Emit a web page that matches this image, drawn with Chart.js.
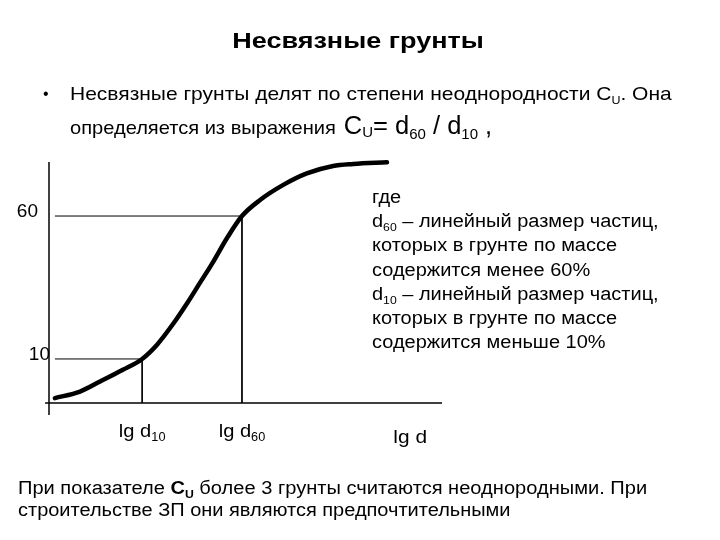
<!DOCTYPE html>
<html>
<head>
<meta charset="utf-8">
<script src="https://cdn.jsdelivr.net/npm/chart.js@4"></script>
<style>
html,body{margin:0;padding:0;background:#fff;}
#wrap{position:relative;width:720px;height:540px;}
</style>
</head>
<body>
<div id="wrap"><canvas id="c" width="720" height="540"></canvas></div>
<script>
// Grain-size (cumulative) curve: x = lg d (arbitrary units), y = % finer by mass
const curveX = [1.5, 7.9, 13.0, 18.8, 23.7, 27.5, 31.6, 35.1, 38.4, 41.7, 45.3, 49.1, 53.7, 59.5, 65.6, 72.3, 77.4, 86.0];
const curveY = [-3.7, -1.4, 2.1, 6.2, 10.0, 15.0, 22.3, 29.4, 36.6, 43.8, 52.3, 60.0, 65.6, 70.8, 74.9, 77.5, 78.2, 78.8];

// Characteristic levels and the matching diameters
const levelValues = [10, 60];
const levelLabels = ['10', '60'];
const diameterX = [23.7, 49.1];           // lg d10, lg d60
const diameterLabels = ['10', '60'];      // subscripts for "lg d"

// Axis extents
const xMin = 0, xMax = 100;
const yMin = -9.6, yMax = 78.9;
const xAxisLevel = -5.4;
const xAxisStart = -1.0;
const guideStart = 1.5;
const axisTitleX = 91.9;

const FONT = '"Liberation Sans", Arial, sans-serif';

function pts(xs, ys) { return xs.map((x, i) => ({x: x, y: ys[i]})); }

const datasets = [
  {
    data: pts(curveX, curveY),
    borderColor: '#000', borderWidth: 4.5, pointRadius: 0,
    cubicInterpolationMode: 'monotone', fill: false, clip: false,
    borderCapStyle: 'round', borderJoinStyle: 'round'
  },
  { // x axis
    data: [{x: xAxisStart, y: xAxisLevel}, {x: xMax, y: xAxisLevel}],
    borderColor: '#000', borderWidth: 1.5, pointRadius: 0, clip: false
  },
  { // y axis
    data: [{x: xMin, y: yMin}, {x: xMin, y: yMax}],
    borderColor: '#000', borderWidth: 1.5, pointRadius: 0, clip: false
  }
];
levelValues.forEach((lv, i) => {
  datasets.push({
    data: [{x: guideStart, y: lv}, {x: diameterX[i], y: lv}, {x: diameterX[i], y: xAxisLevel}],
    borderColor: '#000', borderWidth: 1, pointRadius: 0, clip: false, tension: 0
  });
});

function setFont(ctx, r) {
  ctx.font = (r.bold ? 'bold ' : '') + r.size + 'px ' + FONT;
}
function runsWidth(ctx, runs) {
  let w = 0;
  runs.forEach(r => { setFont(ctx, r); w += ctx.measureText(r.t).width; });
  return w;
}
// draw text runs with a horizontal stretch factor sx
function drawRuns(ctx, x, y, runs, sx) {
  sx = sx || 1;
  ctx.save();
  ctx.translate(x, y);
  ctx.scale(sx, 1);
  let cx = 0;
  runs.forEach(r => {
    setFont(ctx, r);
    ctx.fillText(r.t, cx, (r.dy || 0));
    cx += ctx.measureText(r.t).width;
  });
  ctx.restore();
  return x + cx * sx;
}

const textPlugin = {
  id: 'texts',
  afterDraw(chart) {
    const ctx = chart.ctx;
    const xs = chart.scales.x, ys = chart.scales.y;
    ctx.save();
    ctx.fillStyle = '#000';
    ctx.textBaseline = 'alphabetic';
    ctx.textAlign = 'left';

    // Title
    const titleRuns = [{t: 'Несвязные грунты', size: 22.5, bold: true}];
    const tsx = 1.2;
    const tw = runsWidth(ctx, titleRuns) * tsx;
    drawRuns(ctx, 358 - tw / 2, 48, titleRuns, tsx);

    // Bullet
    ctx.font = '16px ' + FONT;
    ctx.fillText('•', 43, 99);
    drawRuns(ctx, 70, 100, [
      {t: 'Несвязные грунты делят по степени неоднородности C', size: 18.5},
      {t: 'U', size: 11, dy: 4},
      {t: '. Она', size: 18.5}
    ], 1.135);
    const endX = drawRuns(ctx, 70, 134, [
      {t: 'определяется из выражения', size: 18.5}
    ], 1.085);
    drawRuns(ctx, endX + 8, 134, [
      {t: 'C', size: 25.5},
      {t: 'U', size: 15, dy: 3},
      {t: '= d', size: 25.5},
      {t: '60', size: 15, dy: 5},
      {t: ' / d', size: 25.5},
      {t: '10', size: 15, dy: 5},
      {t: ' ,', size: 25.5}
    ], 1.0);

    // Right explanatory block
    const rx = 372, lh = 24.2, ry = 203;
    const lines = [
      [{t: 'где', size: 18}],
      [{t: 'd', size: 18}, {t: '60', size: 11, dy: 4}, {t: ' – линейный размер частиц,', size: 18}],
      [{t: 'которых в грунте по массе', size: 18}],
      [{t: 'содержится менее 60%', size: 18}],
      [{t: 'd', size: 18}, {t: '10', size: 11, dy: 4}, {t: ' – линейный размер частиц,', size: 18}],
      [{t: 'которых в грунте по массе', size: 18}],
      [{t: 'содержится меньше 10%', size: 18}]
    ];
    lines.forEach((ln, i) => drawRuns(ctx, rx, ry + i * lh, ln, 1.11));

    // Y level labels (from scale)
    ctx.font = '19px ' + FONT;
    ctx.textBaseline = 'middle';
    ctx.textAlign = 'right';
    const labelRight = {'10': 50, '60': 38};
    levelValues.forEach((lv, i) => {
      ctx.fillText(levelLabels[i], labelRight[levelLabels[i]], ys.getPixelForValue(lv) - 4);
    });
    ctx.textBaseline = 'alphabetic';
    ctx.textAlign = 'left';

    // X diameter labels (from scale)
    const by = ys.getPixelForValue(xAxisLevel) + 34;
    diameterX.forEach((dx, i) => {
      const runs = [{t: 'lg d', size: 19}, {t: diameterLabels[i], size: 12, dy: 4}];
      const w = runsWidth(ctx, runs) * 1.06;
      drawRuns(ctx, xs.getPixelForValue(dx) - w / 2, by, runs, 1.06);
    });
    // Axis title
    const at = [{t: 'lg d', size: 19}];
    const aw = runsWidth(ctx, at) * 1.1;
    drawRuns(ctx, xs.getPixelForValue(axisTitleX) - aw / 2, by + 6, at, 1.1);

    // Bottom note
    drawRuns(ctx, 18, 494, [
      {t: 'При показателе ', size: 18},
      {t: 'C', size: 18, bold: true},
      {t: 'U', size: 11, bold: true, dy: 4},
      {t: ' более 3 грунты считаются неоднородными. При', size: 18}
    ], 1.115);
    drawRuns(ctx, 18, 516, [
      {t: 'строительстве ЗП они являются предпочтительными', size: 18}
    ], 1.11);
    ctx.restore();
  }
};

new Chart(document.getElementById('c'), {
  type: 'line',
  data: {datasets: datasets},
  options: {
    responsive: false,
    animation: false,
    events: [],
    layout: {padding: {left: 49, right: 278, top: 162, bottom: 125}},
    plugins: {legend: {display: false}, tooltip: {enabled: false}},
    scales: {
      x: {type: 'linear', min: xMin, max: xMax, display: false},
      y: {type: 'linear', min: yMin, max: yMax, display: false}
    }
  },
  plugins: [textPlugin]
});
</script>
</body>
</html>
